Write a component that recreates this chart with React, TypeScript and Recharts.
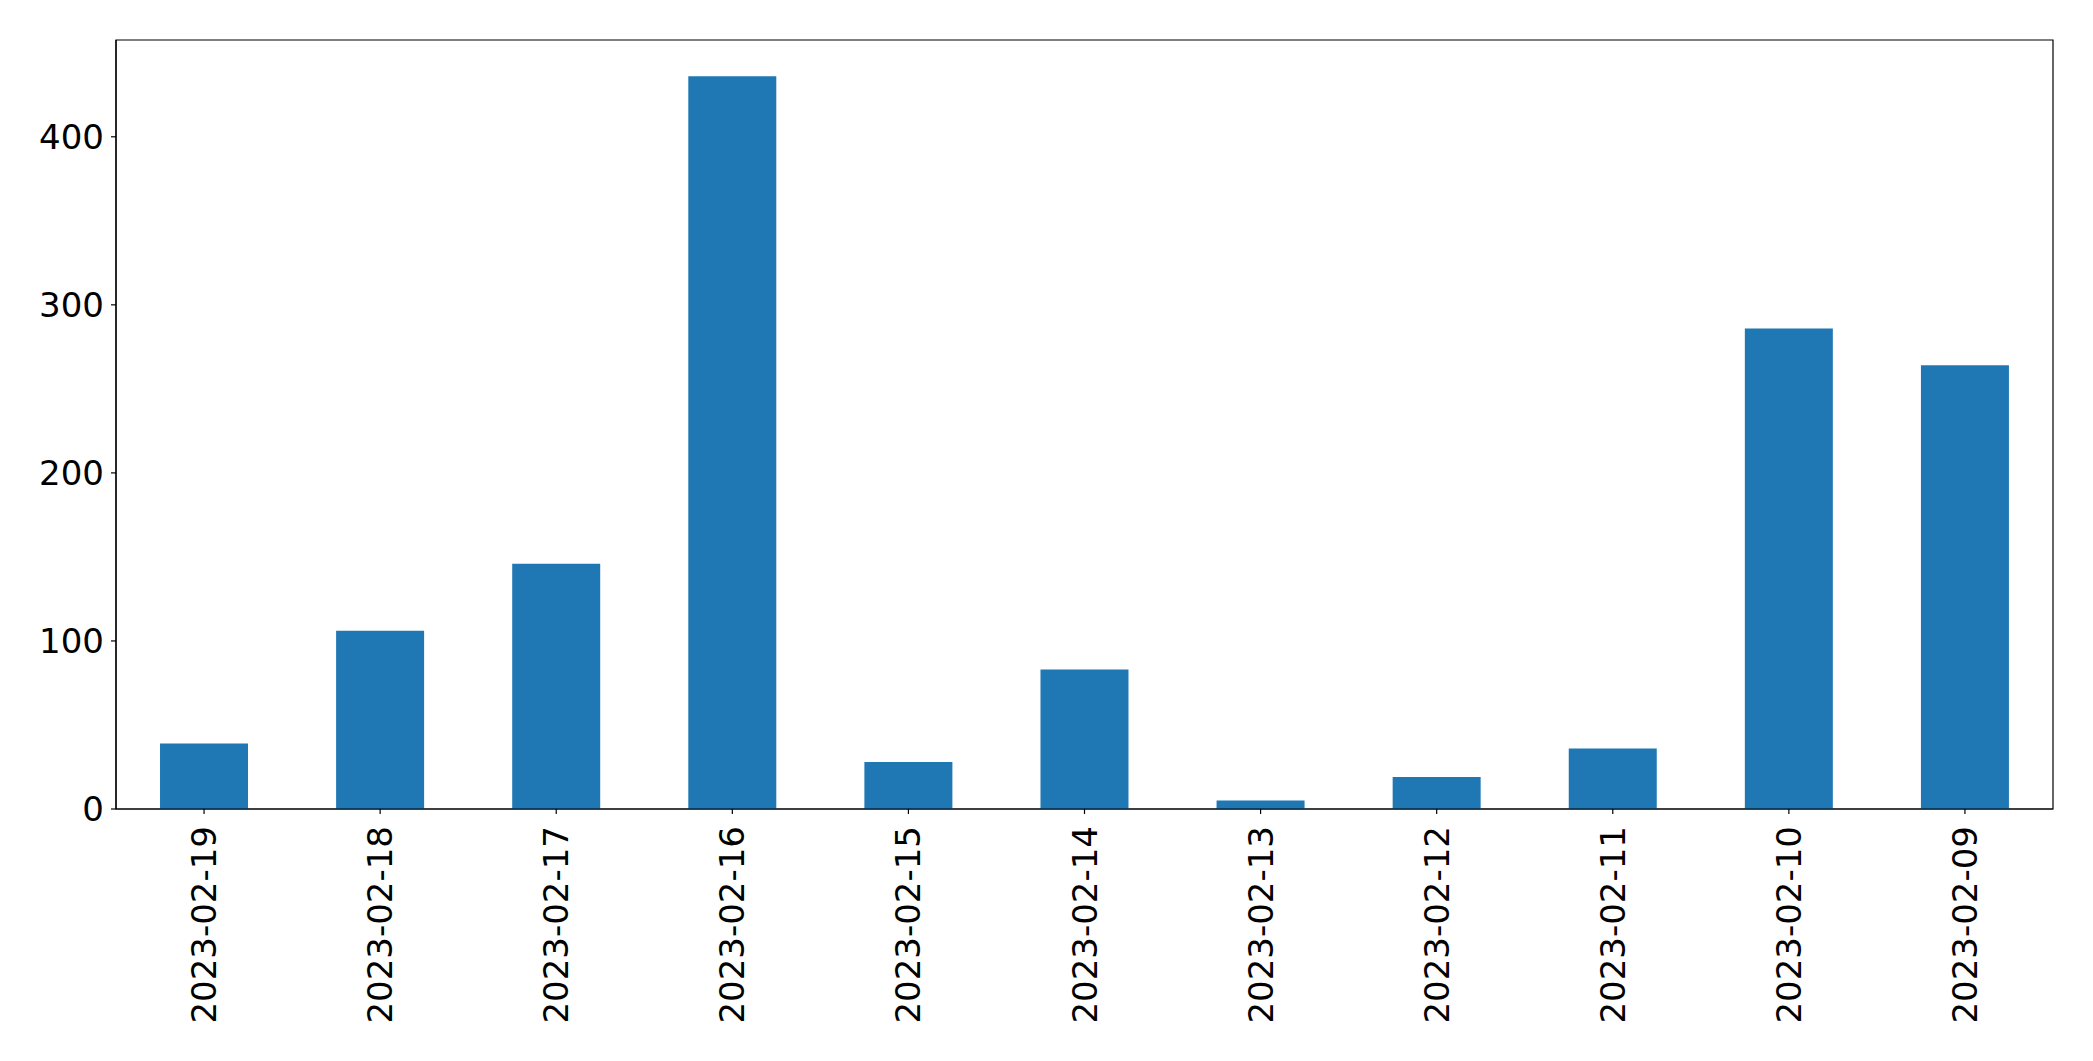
import { BarChart, Bar, XAxis, YAxis, ReferenceArea } from "recharts";

// Daily counts, newest first.
const dates = [
  "2023-02-19",
  "2023-02-18",
  "2023-02-17",
  "2023-02-16",
  "2023-02-15",
  "2023-02-14",
  "2023-02-13",
  "2023-02-12",
  "2023-02-11",
  "2023-02-10",
  "2023-02-09",
];
const counts = [39, 106, 146, 436, 28, 83, 5, 19, 36, 286, 264];
const yTicks = [0, 100, 200, 300, 400];

const rows = dates.map((d, i) => ({ date: d, count: counts[i] }));

const FONT = "DejaVu Sans, sans-serif";
const TICK_FS = 34;
const Y_MAX = 457.6; // max * 1.05, like matplotlib's default margin

function DateTick(props: any) {
  const { x, y, payload } = props;
  return (
    <text
      x={x}
      y={y}
      transform={`rotate(-90, ${x}, ${y})`}
      textAnchor="end"
      dominantBaseline="central"
      fontFamily={FONT}
      fontSize={TICK_FS}
      fill="#000"
    >
      {payload.value}
    </text>
  );
}

export default function App() {
  return (
    <div style={{ position: "absolute", left: 0, top: 0, width: 2093, height: 1061, background: "#fff" }}>
      <BarChart
        width={2093}
        height={1061}
        data={rows}
        margin={{ top: 40, right: 40, bottom: 0, left: 0 }}
        barCategoryGap="25%"
      >
        <XAxis
          dataKey="date"
          interval={0}
          height={252}
          tickSize={5}
          tickMargin={12}
          stroke="#000"
          axisLine={{ stroke: "#000", strokeWidth: 1.2 }}
          tickLine={{ stroke: "#000", strokeWidth: 1.2 }}
          tick={<DateTick />}
        />
        <YAxis
          width={116}
          domain={[0, Y_MAX]}
          ticks={yTicks}
          tickSize={5}
          tickMargin={7}
          axisLine={{ stroke: "#000", strokeWidth: 1.2 }}
          tickLine={{ stroke: "#000", strokeWidth: 1.2 }}
          tick={{ fontFamily: FONT, fontSize: TICK_FS, fill: "#000" }}
        />
        <Bar dataKey="count" fill="#1f77b4" isAnimationActive={false} />
        {/* full box frame, like matplotlib's four spines */}
        <ReferenceArea
          y1={0}
          y2={Y_MAX}
          fill="none"
          fillOpacity={0}
          stroke="#000"
          strokeWidth={1.2}
          strokeOpacity={1}
        />
      </BarChart>
    </div>
  );
}
